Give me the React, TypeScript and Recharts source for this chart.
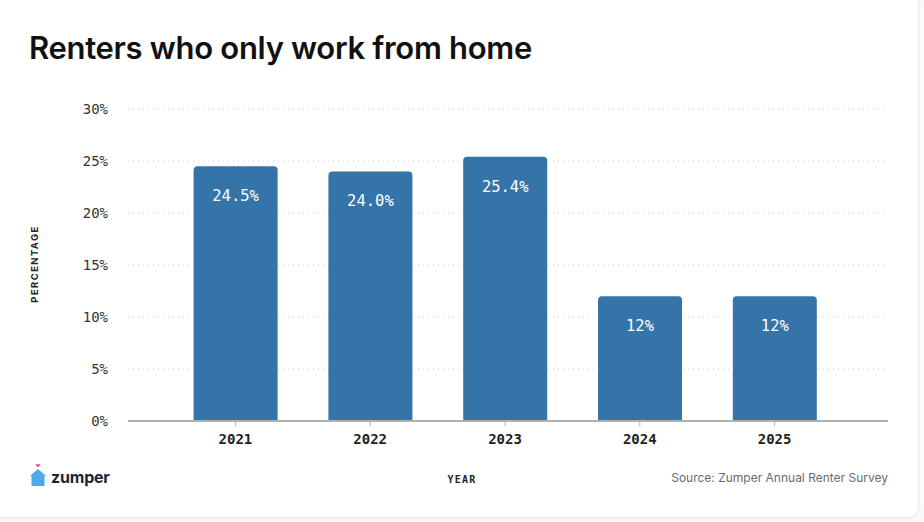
import React from "react";
import { BarChart, Bar, XAxis, YAxis, CartesianGrid, LabelList } from "recharts";

const years = ["2021", "2022", "2023", "2024", "2025"];
const shares = [24.5, 24.0, 25.4, 12, 12];
const shareLabels = ["24.5%", "24.0%", "25.4%", "12%", "12%"];
const yTicks = [0, 5, 10, 15, 20, 25, 30];

const data = years.map((y, i) => ({ year: y, value: shares[i], label: shareLabels[i] }));

const mono = "'DejaVu Sans Mono', monospace";

export default function App() {
  return (
    <div style={{ position: "fixed", left: 0, top: 0, width: 924, height: 522, background: "#fafafa", overflow: "hidden" }}>
      <div
        style={{
          position: "absolute",
          left: -12,
          top: -12,
          width: 929,
          height: 528,
          background: "#fff",
          borderRadius: 12,
          border: "1px solid #ececec",
          boxShadow: "0 1px 3px rgba(0,0,0,0.06)",
        }}
      />
      <div
        style={{
          position: "absolute",
          left: 29,
          top: 29,
          fontFamily: "Inter, sans-serif",
          fontWeight: 600,
          fontSize: 31,
          color: "#111",
          letterSpacing: -0.3,
          whiteSpace: "nowrap",
        }}
      >
        Renters who only work from home
      </div>
      <div style={{ position: "absolute", left: 0, top: 0 }}>
        <BarChart
          width={924}
          height={522}
          data={data}
          margin={{ top: 109, right: 36, left: 68, bottom: 71 }}
          barCategoryGap="19%"
        >
          <CartesianGrid vertical={false} stroke="#c8c8c8" strokeDasharray="1 4" />
          <XAxis
            dataKey="year"
            height={30}
            padding={{ left: 40, right: 46 }}
            axisLine={{ stroke: "#b0b0b0", strokeWidth: 2 }}
            tickLine={{ stroke: "#b0b0b0" }}
            tickSize={5}
            tickMargin={8}
            tick={{ fontFamily: mono, fontSize: 14, fontWeight: 700, fill: "#222" }}
          />
          <YAxis
            width={60}
            domain={[0, 30]}
            ticks={yTicks}
            tickFormatter={(v) => `${v}%`}
            axisLine={false}
            tickLine={false}
            tickSize={0}
            tickMargin={20}
            tick={{ fontFamily: mono, fontSize: 14, fill: "#333" }}
          />
          <Bar dataKey="value" fill="#3574a8" radius={[4, 4, 0, 0]} isAnimationActive={false}>
            <LabelList
              dataKey="label"
              position="insideTop"
              offset={24}
              fill="#fff"
              style={{ fontFamily: mono, fontSize: 15.5 }}
            />
          </Bar>
        </BarChart>
      </div>
      <div
        style={{
          position: "absolute",
          left: 34,
          top: 264,
          transform: "translate(-50%, -50%) rotate(-90deg)",
          fontFamily: "Inter, sans-serif",
          fontSize: 9.5,
          fontWeight: 700,
          letterSpacing: 1.4,
          color: "#222",
          whiteSpace: "nowrap",
        }}
      >
        PERCENTAGE
      </div>
      <div
        style={{
          position: "absolute",
          left: 462,
          top: 479,
          transform: "translate(-50%, -50%)",
          fontFamily: mono,
          fontSize: 10,
          fontWeight: 700,
          letterSpacing: 1.2,
          color: "#222",
        }}
      >
        YEAR
      </div>
      <div
        style={{
          position: "absolute",
          right: 36,
          top: 470,
          fontFamily: "Inter, sans-serif",
          fontSize: 12,
          color: "#6a6a6a",
          whiteSpace: "nowrap",
        }}
      >
        Source: Zumper Annual Renter Survey
      </div>
      <div style={{ position: "absolute", left: 28, top: 463, display: "flex", alignItems: "center" }}>
        <svg width={20} height={24} viewBox="0 0 20 24">
          <path d="M10 6 L18 13 L16.5 13 L16.5 23 L3.5 23 L3.5 13 L2 13 Z" fill="#4fa8e8" />
          <path d="M10 1.5 C9 0.3 7.5 1 8 2.3 L10 4.3 L12 2.3 C12.5 1 11 0.3 10 1.5 Z" fill="#e8487a" />
        </svg>
        <span
          style={{
            fontFamily: "Inter, sans-serif",
            fontWeight: 700,
            fontSize: 16,
            color: "#1b2533",
            marginLeft: 3,
            marginTop: 4,
            letterSpacing: -0.2,
          }}
        >
          zumper
        </span>
      </div>
    </div>
  );
}
